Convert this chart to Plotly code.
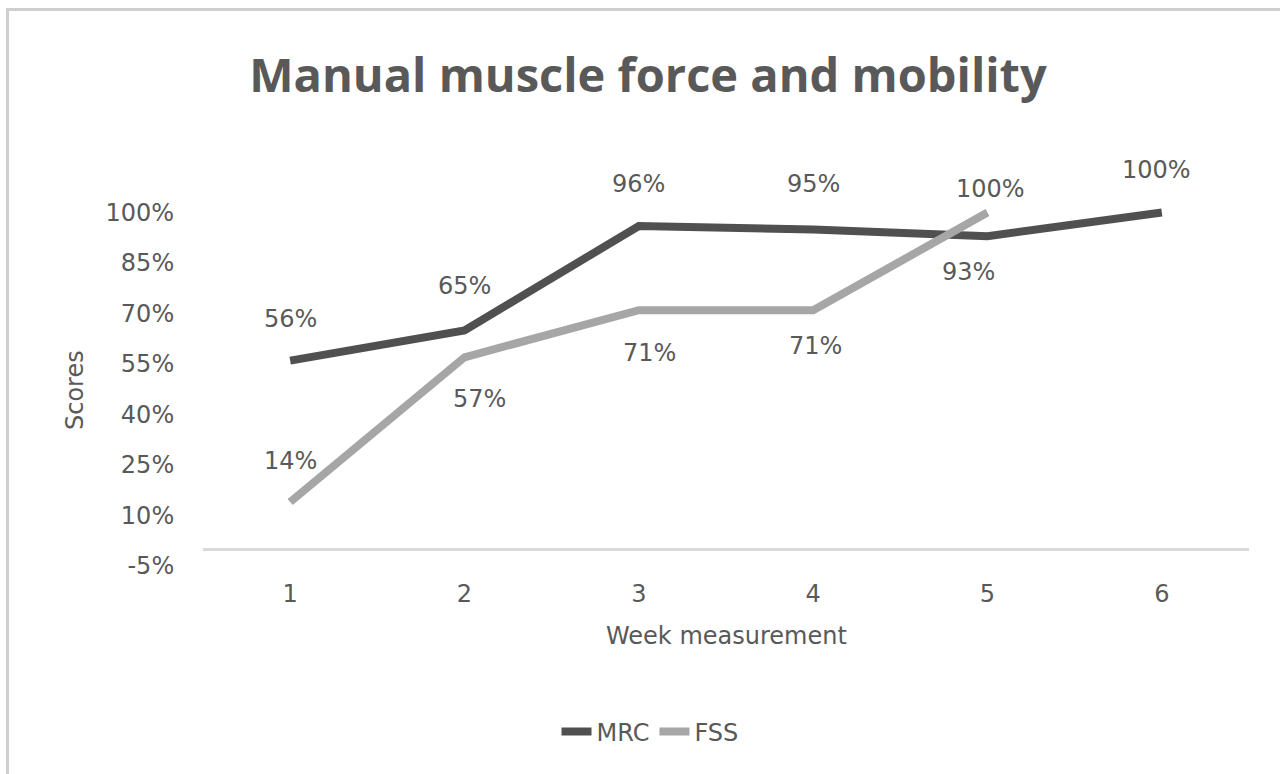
import plotly.graph_objects as go

weeks = ["1", "2", "3", "4", "5", "6"]
mrc = [56, 65, 96, 95, 93, 100]
fss = [14, 57, 71, 71, 100]
y_ticks = [-5, 10, 25, 40, 55, 70, 85, 100]

# label placement (pixel offsets) - styling only
mrc_dx = [0, 0, 0, 0, -19, -5]
mrc_dy = [42, 44, 42, 45, -36, 43]
fss_dx = [0, 15, 11, 2, 3]
fss_dy = [41, -42, -43, -36, 24]

DARK = "#505050"
LIGHT = "#a6a6a6"
TXT = "#595959"
FONT = "DejaVu Sans"
TFONT = "Open Sans"

W, H = 1280, 774
L, R, T, B = 203, 31, 152, 197
pw, ph = W - L - R, H - T - B

def px(x):
    return (x - L) / pw

def py(y):
    return (H - B - y) / ph

fig = go.Figure()
fig.add_trace(go.Scatter(x=weeks, y=mrc, mode="lines", name="MRC",
                         line=dict(color=DARK, width=8)))
fig.add_trace(go.Scatter(x=weeks[:len(fss)], y=fss, mode="lines", name="FSS",
                         line=dict(color=LIGHT, width=8)))

ann = []
for i, v in enumerate(mrc):
    ann.append(dict(x=i, y=v, xref="x", yref="y", text=f"{v}%",
                    showarrow=False, xshift=mrc_dx[i], yshift=mrc_dy[i],
                    xanchor="center", yanchor="middle",
                    font=dict(family=FONT, size=24, color=TXT)))
for i, v in enumerate(fss):
    ann.append(dict(x=i, y=v, xref="x", yref="y", text=f"{v}%",
                    showarrow=False, xshift=fss_dx[i], yshift=fss_dy[i],
                    xanchor="center", yanchor="middle",
                    font=dict(family=FONT, size=24, color=TXT)))
ann.append(dict(x=px(75), y=py(390), xref="paper", yref="paper", text="Scores",
                textangle=-90, showarrow=False, xanchor="center", yanchor="middle",
                font=dict(family=FONT, size=24, color=TXT)))
ann.append(dict(x=px(726), y=py(636), xref="paper", yref="paper",
                text="Week measurement", showarrow=False,
                xanchor="center", yanchor="middle",
                font=dict(family=FONT, size=24, color=TXT)))

shapes = [
    dict(type="line", xref="paper", yref="paper", x0=px(6), x1=px(1280),
         y0=py(9.5), y1=py(9.5), line=dict(color="#cfcfcf", width=3)),
    dict(type="line", xref="paper", yref="paper", x0=px(7.5), x1=px(7.5),
         y0=py(8), y1=py(774), line=dict(color="#cfcfcf", width=3)),
]

fig.update_layout(
    width=W, height=H,
    margin=dict(l=L, r=R, t=T, b=B),
    paper_bgcolor="white", plot_bgcolor="white",
    title=dict(text="<b>Manual muscle force and mobility</b>", x=px(648),
               xref="paper", xanchor="center", y=1 - 76 / H, yanchor="middle",
               font=dict(family=TFONT, size=47, color=TXT)),
    xaxis=dict(type="category", range=[-0.5, 5.5], showgrid=False,
               showline=False, zeroline=False,
               tickfont=dict(family=FONT, size=24, color=TXT)),
    yaxis=dict(range=[-8.3, 118], showgrid=False, showline=False,
               zeroline=True, zerolinecolor="#d9d9d9", zerolinewidth=3,
               tickvals=y_ticks, ticktext=[f"{t}%" for t in y_ticks],
               ticks="outside", ticklen=23, tickcolor="rgba(0,0,0,0)",
               tickfont=dict(family=FONT, size=24, color=TXT)),
    showlegend=True,
    legend=dict(orientation="h", x=px(650), xanchor="center",
                y=py(732), yanchor="middle",
                font=dict(family=FONT, size=24, color=TXT)),
    annotations=ann, shapes=shapes,
)

fig.write_html("out.html", config={"displayModeBar": False},
               post_script="document.body.style.margin='0';")
